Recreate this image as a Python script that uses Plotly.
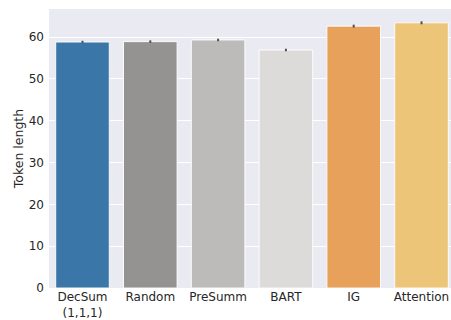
import plotly.graph_objects as go

categories = ["DecSum<br>(1,1,1)", "Random", "PreSumm", "BART", "IG", "Attention"]
values = [58.8, 58.9, 59.3, 56.9, 62.6, 63.4]
errors = [0.3, 0.3, 0.3, 0.3, 0.35, 0.35]
colors = ["#3a77a8", "#949392", "#bcbbb9", "#dcdbd9", "#e8a15a", "#ecc579"]
yticks = [0, 10, 20, 30, 40, 50, 60]

fig = go.Figure(go.Bar(
    x=list(range(len(categories))),
    y=values,
    width=0.79,
    marker=dict(color=colors, line=dict(color="rgba(255,255,255,0.9)", width=1)),
    error_y=dict(type="data", array=errors, visible=True, color="#505050", thickness=2, width=0),
))

fig.update_layout(
    width=451, height=320,
    margin=dict(l=49, r=0, t=9, b=32),
    paper_bgcolor="white",
    plot_bgcolor="#eaeaf2",
    font=dict(family="DejaVu Sans", size=12, color="#262626"),
    showlegend=False,
    bargap=0.2,
)
fig.update_xaxes(
    tickmode="array", tickvals=list(range(len(categories))), ticktext=categories,
    range=[-0.494, 5.435], showgrid=False, zeroline=False, ticks="", automargin=False,
    tickfont=dict(size=12),
)
fig.update_yaxes(
    range=[0, 66.7], tickvals=yticks, ticktext=[str(t) for t in yticks],
    showgrid=True, gridcolor="white", gridwidth=1, zeroline=False, ticks="",
    title=dict(text="Token length", standoff=2, font=dict(size=12.5)), automargin=False,
    tickfont=dict(size=12), ticklabelstandoff=4,
)

fig.write_html("out.html", config={"displayModeBar": False},
               post_script="document.body.style.margin='0';document.body.style.overflow='hidden';")
